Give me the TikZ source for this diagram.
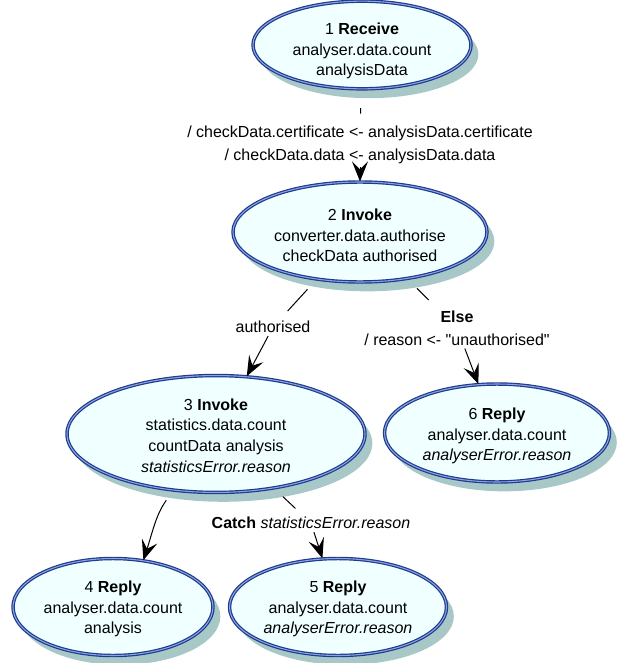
\documentclass[tikz,border=0pt]{standalone}
\usepackage{fontspec}
\setmainfont{Liberation Sans}[Ligatures=TeXOff]
\usetikzlibrary{shapes.geometric,shadows,arrows.meta}
\definecolor{fillc}{HTML}{F0FFFF}
\definecolor{borderc}{HTML}{1E3A90}
\definecolor{midc}{HTML}{8CA4DC}
\definecolor{shadowc}{HTML}{A8C8C8}
\newcommand{\stxt}[2]{\raisebox{-#1}[\height][\depth]{\begin{tabular}{@{}c@{}}#2\end{tabular}}}
\begin{document}
\begin{tikzpicture}[x=0.75pt,y=-0.75pt,
  state/.style={ellipse, draw=borderc, double=midc, double distance=0.8pt, line width=0.9pt,
    fill=fillc, inner sep=0pt, font=\fontsize{12pt}{15.5pt}\selectfont,
    drop shadow={shadow xshift=5.5pt, shadow yshift=-7pt, fill=shadowc, opacity=1}},
  lbl/.style={inner sep=2.25pt, align=center, font=\fontsize{12pt}{17pt}\selectfont},
  seg/.style={line width=0.75pt, black},
  arr/.style={seg, -{Stealth[length=15pt, width=12pt, inset=6pt]}}
]
\useasboundingbox (0,0) rectangle (621,663);
\node[state, minimum width=163.5pt, minimum height=61.5pt] (n1) at (362,45)
  {\stxt{4.5pt}{1 \textbf{Receive}\\analyser.data.count\\analysisData}};
\node[state, minimum width=190.5pt, minimum height=75pt] (n2) at (360,232)
  {\stxt{3.75pt}{2 \textbf{Invoke}\\converter.data.authorise\\checkData authorised}};
\node[state, minimum width=223.5pt, minimum height=84pt] (n3) at (216,434)
  {\stxt{2.25pt}{3 \textbf{Invoke}\\statistics.data.count\\countData analysis\\\textit{statisticsError.reason}}};
\node[state, minimum width=168.75pt, minimum height=73.5pt] (n6) at (497,433)
  {\stxt{2.25pt}{6 \textbf{Reply}\\analyser.data.count\\\textit{analyserError.reason}}};
\node[state, minimum width=150pt, minimum height=72.75pt] (n4) at (113,607)
  {\stxt{1.5pt}{4 \textbf{Reply}\\analyser.data.count\\analysis}};
\node[state, minimum width=162.75pt, minimum height=72.75pt] (n5) at (338,607)
  {\stxt{1.5pt}{5 \textbf{Reply}\\analyser.data.count\\\textit{analyserError.reason}}};

\node[lbl] (l12) at (360,145) {/ checkData.certificate <- analysisData.certificate\\/ checkData.data <- analysisData.data};
\node[lbl] (l23) at (273,327) {authorised};
\node[lbl] (l26) at (457,328) {\textbf{Else}\\/ reason <- "unauthorised"};
\node[lbl] (l35) at (311,523) {\textbf{Catch} \textit{statisticsError.reason}};

\draw[seg, shorten <=14pt, shorten >=7pt] (n1) -- (l12);
\draw[arr] (l12) -- (n2);
\draw[seg, shorten <=10pt, shorten >=7pt] (n2) -- (l23);
\draw[arr] (l23) -- (n3);
\draw[seg, shorten <=10pt, shorten >=8pt] (n2) -- (l26);
\draw[arr] (l26) -- (n6);
\draw[seg, shorten <=9pt, shorten >=6pt] (n3) -- (l35);
\draw[arr] (l35) -- (n5);
\draw[arr, shorten <=9pt] (n3.233) to[out=234, in=72] (n4.57);
\end{tikzpicture}
\end{document}
